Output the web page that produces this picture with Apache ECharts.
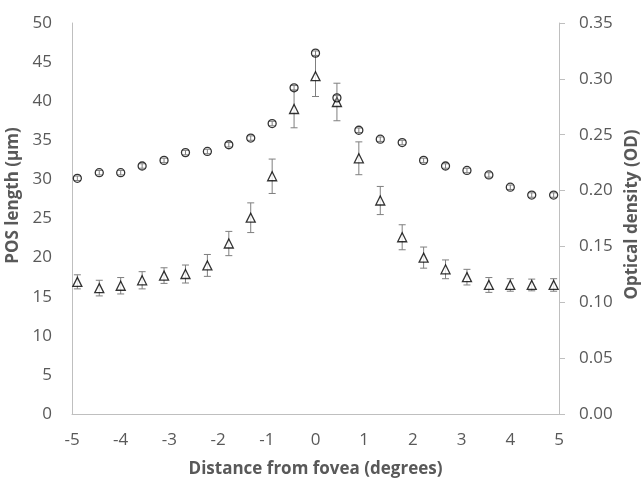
<!DOCTYPE html>
<html>
<head>
<meta charset="utf-8">
<script src="https://cdn.jsdelivr.net/npm/echarts@6/dist/echarts.min.js"></script>
<style>
  html, body { margin: 0; padding: 0; background: #fff; }
  #chart { width: 641px; height: 479px; }
</style>
</head>
<body>
<div id="chart"></div>
<script>
// distance from fovea (degrees)
const distance = [-4.89, -4.44, -4.0, -3.56, -3.11, -2.67, -2.22, -1.78, -1.33, -0.89, -0.44, 0,
  0.44, 0.89, 1.33, 1.78, 2.22, 2.67, 3.11, 3.56, 4.0, 4.44, 4.89]

// triangles, left axis
const posLength = [16.9, 16.1, 16.4, 17.1, 17.7, 17.9, 19.0, 21.8, 25.1, 30.4, 39.0, 43.2,
  39.9, 32.7, 27.3, 22.6, 20.0, 18.5, 17.5, 16.5, 16.5, 16.5, 16.5]
const posError = [0.9, 1.0, 1.05, 1.1, 1.0, 1.15, 1.4, 1.55, 1.9, 2.2, 2.4, 2.6,
  2.4, 2.1, 1.8, 1.6, 1.35, 1.2, 1.0, 0.95, 0.8, 0.75, 0.8]

// circles, right axis
const opticalDensity = [0.211, 0.216, 0.216, 0.222, 0.227, 0.234, 0.235, 0.241, 0.247, 0.26, 0.292, 0.323,
  0.283, 0.254, 0.246, 0.243, 0.227, 0.222, 0.218, 0.214, 0.203, 0.196, 0.196]
const odError = [0.002, 0.002, 0.002, 0.002, 0.002, 0.002, 0.002, 0.002, 0.002, 0.002, 0.002, 0.002,
  0.002, 0.002, 0.002, 0.002, 0.002, 0.002, 0.002, 0.002, 0.002, 0.002, 0.002]

const FONT = 'Open Sans'
const TEXT_COLOR = '#595959'
const AXIS_COLOR = '#bfbfbf'

const errorBarData = (vals, errs) => vals.map((v, i) => [distance[i], v - errs[i], v + errs[i]])

const renderErrorBar = (params, api) => {
  const x = api.value(0)
  const top = api.coord([x, api.value(2)])
  const bot = api.coord([x, api.value(1)])
  const half = 3.5
  const style = { stroke: '#7f7f7f', lineWidth: 1 }
  return {
    type: 'group',
    children: [
      { type: 'line', shape: { x1: top[0], y1: top[1], x2: bot[0], y2: bot[1] }, style },
      { type: 'line', shape: { x1: top[0] - half, y1: top[1], x2: top[0] + half, y2: top[1] }, style },
      { type: 'line', shape: { x1: bot[0] - half, y1: bot[1], x2: bot[0] + half, y2: bot[1] }, style },
    ],
  }
}

const labelStyle = { color: TEXT_COLOR, fontFamily: FONT, fontSize: 17 }
const nameStyle = { color: TEXT_COLOR, fontFamily: FONT, fontSize: 17, fontWeight: 'bold' }

const chart = echarts.init(document.getElementById('chart'))
chart.setOption({
  animation: false,
  grid: { left: 72, right: 82, top: 23, bottom: 65, outerBoundsMode: 'none' },
  xAxis: {
    type: 'value',
    min: -5,
    max: 5,
    interval: 1,
    name: 'Distance from fovea (degrees)',
    nameLocation: 'middle',
    nameGap: 47,
    nameTextStyle: nameStyle,
    axisLine: { onZero: false, lineStyle: { color: AXIS_COLOR } },
    axisTick: { show: false },
    axisLabel: { ...labelStyle, margin: 18 },
    splitLine: { show: false },
  },
  yAxis: [
    {
      type: 'value',
      min: 0,
      max: 50,
      interval: 5,
      name: 'POS length (µm)',
      nameLocation: 'middle',
      nameGap: 43,
      nameTextStyle: { ...nameStyle, padding: [0, 0, 0, 46] },
      axisLine: { show: true, onZero: false, lineStyle: { color: AXIS_COLOR } },
      axisTick: { show: false },
      axisLabel: { ...labelStyle, margin: 20 },
      splitLine: { show: false },
    },
    {
      type: 'value',
      min: 0,
      max: 0.35,
      interval: 0.05,
      position: 'right',
      name: 'Optical density (OD)',
      nameLocation: 'middle',
      nameGap: 61,
      nameTextStyle: { ...nameStyle, padding: [0, 0, 0, 8] },
      axisLine: { show: true, onZero: false, lineStyle: { color: AXIS_COLOR } },
      axisTick: { show: true, inside: false, length: 6, lineStyle: { color: AXIS_COLOR } },
      axisLabel: { ...labelStyle, margin: 20, formatter: (v) => v.toFixed(2) },
      splitLine: { show: false },
    },
  ],
  series: [
    {
      type: 'custom',
      yAxisIndex: 0,
      renderItem: renderErrorBar,
      encode: { x: 0, y: [1, 2] },
      data: errorBarData(posLength, posError),
      z: 1,
    },
    {
      name: 'POS length',
      type: 'scatter',
      yAxisIndex: 0,
      symbol: 'triangle',
      symbolSize: [9, 9],
      itemStyle: { color: '#fff', borderColor: '#000', borderWidth: 1.3 },
      data: distance.map((d, i) => [d, posLength[i]]),
      z: 2,
    },
    {
      type: 'custom',
      yAxisIndex: 1,
      renderItem: renderErrorBar,
      encode: { x: 0, y: [1, 2] },
      data: errorBarData(opticalDensity, odError),
      z: 3,
    },
    {
      name: 'Optical density',
      type: 'scatter',
      yAxisIndex: 1,
      symbol: 'circle',
      symbolSize: 8,
      itemStyle: { color: 'rgba(255,255,255,0)', borderColor: '#000', borderWidth: 1.3 },
      data: distance.map((d, i) => [d, opticalDensity[i]]),
      z: 4,
    },
  ],
})
</script>
</body>
</html>
